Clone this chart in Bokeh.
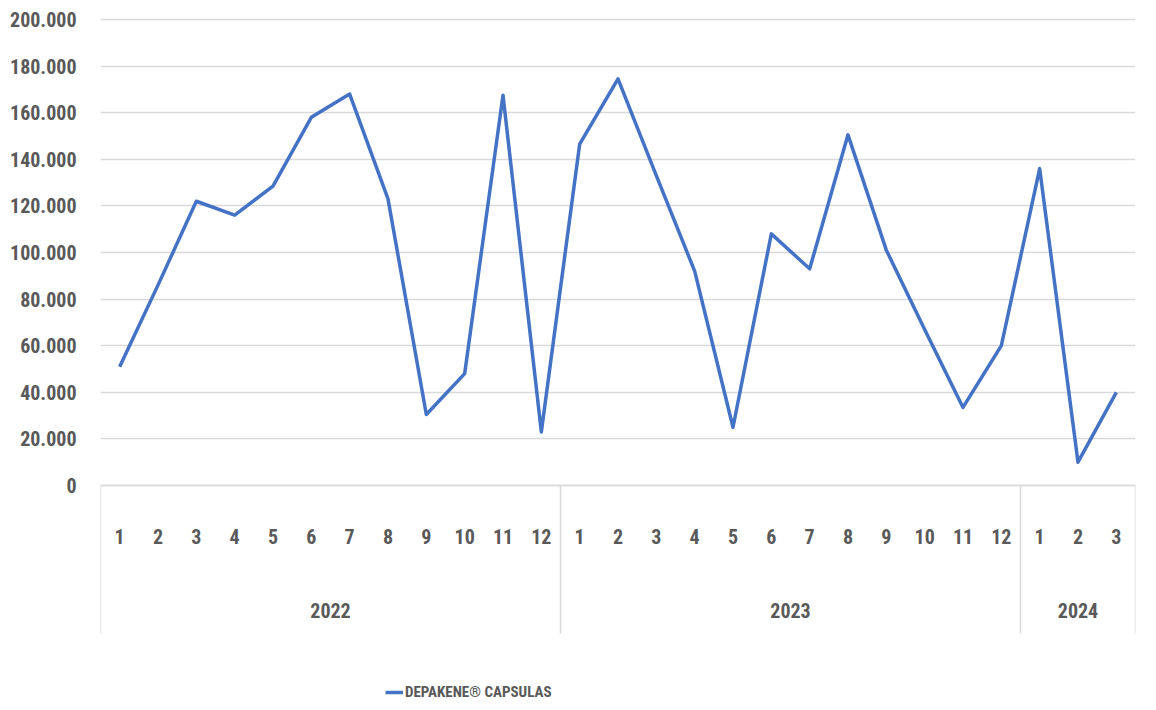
from bokeh.plotting import figure
from bokeh.models import FactorRange, Range1d, FixedTicker, Legend, LegendItem
from bokeh.core.properties import value
from bokeh.embed import file_html
from bokeh.resources import INLINE

# ---- data ----
years = ["2022", "2023", "2024"]
months_2022 = ["1", "2", "3", "4", "5", "6", "7", "8", "9", "10", "11", "12"]
months_2023 = ["1", "2", "3", "4", "5", "6", "7", "8", "9", "10", "11", "12"]
months_2024 = ["1", "2", "3"]
values_2022 = [51000, 86000, 122000, 116000, 128500, 158000, 168000, 123000, 30500, 48000, 167500, 23000]
values_2023 = [146500, 174500, 133000, 92000, 25000, 108000, 93000, 150500, 101000, 67000, 33500, 60000]
values_2024 = [136000, 10000, 40000]
series_name = "DEPAKENE\u00ae CAPSULAS"
y_ticks = [0, 20000, 40000, 60000, 80000, 100000, 120000, 140000, 160000, 180000, 200000]
y_tick_labels = ["0", "20.000", "40.000", "60.000", "80.000", "100.000", "120.000",
                 "140.000", "160.000", "180.000", "200.000"]

month_lists = [months_2022, months_2023, months_2024]
value_lists = [values_2022, values_2023, values_2024]

factors, vals = [], []
for yr, ms, vs in zip(years, month_lists, value_lists):
    for m, v in zip(ms, vs):
        factors.append((yr, m))
        vals.append(v)

# group boundaries & centers in synthetic coordinates
bounds = [0]
for ms in month_lists:
    bounds.append(bounds[-1] + len(ms))
centers = [(a + b) / 2 for a, b in zip(bounds[:-1], bounds[1:])]

FONT = "'Roboto Condensed', 'Liberation Sans Narrow', 'Liberation Sans', sans-serif"
TXT = "#595959"
GRID = "#d9d9d9"
BLUE = "#4472C4"
FS = "20px"

p = figure(width=1140, height=702,
           x_range=FactorRange(*factors, factor_padding=0, group_padding=0, range_padding=0),
           y_range=Range1d(-93133, 204721),
           output_backend="svg", toolbar_location=None,
           min_border_left=100, min_border_right=5, min_border_top=8, min_border_bottom=0)
p.outline_line_color = None
p.xgrid.visible = False
p.ygrid.ticker = FixedTicker(ticks=y_ticks)
p.ygrid.grid_line_color = GRID
p.ygrid.grid_line_width = 1.5

# y axis
ya = p.yaxis[0]
ya.ticker = FixedTicker(ticks=y_ticks)
ya.major_label_overrides = {t: l for t, l in zip(y_ticks, y_tick_labels)}
ya.axis_line_color = None
ya.major_tick_line_color = None
ya.minor_tick_line_color = None
ya.major_label_standoff = 18
ya.major_label_text_font = FONT
ya.major_label_text_font_style = "bold"
ya.major_label_text_font_size = FS
ya.major_label_text_color = TXT

# x axis (months) fixed at y=0
xa = p.xaxis[0]
xa.fixed_location = 0
xa.axis_line_color = GRID
xa.axis_line_width = 1.5
xa.major_tick_line_color = None
xa.minor_tick_line_color = None
xa.separator_line_color = None
xa.group_text_color = None
xa.major_label_standoff = 37
xa.major_label_text_font = FONT
xa.major_label_text_font_style = "bold"
xa.major_label_text_font_size = FS
xa.major_label_text_color = TXT

# group separators
p.segment(x0=bounds, x1=bounds, y0=[0] * len(bounds), y1=[-63500] * len(bounds),
          line_color=GRID, line_width=1.5)

# year labels
p.text(x=centers, y=[-53600] * len(centers), text=years,
       text_font=value(FONT), text_font_style="bold", text_font_size=FS,
       text_color=TXT, text_align="center", text_baseline="middle")

# series
r = p.line(x=factors, y=vals, line_color=BLUE, line_width=3.5, line_join="round")

legend = Legend(items=[LegendItem(label=series_name, renderers=[r])],
                location=(285, 1), padding=0, margin=0, spacing=0,
                glyph_width=18, glyph_height=16, label_standoff=2,
                border_line_color=None, background_fill_alpha=0,
                label_text_font=FONT, label_text_font_style="bold",
                label_text_font_size="15px", label_text_color=TXT)
p.add_layout(legend)

open("out.html", "w").write(file_html(p, INLINE))
